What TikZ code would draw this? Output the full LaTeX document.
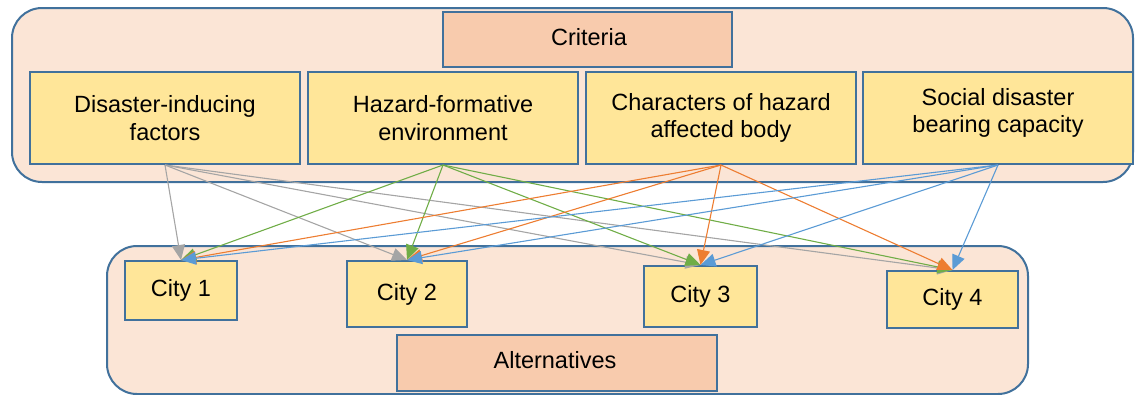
\documentclass[tikz,border=0pt]{standalone}
\usepackage{fontspec}
\setmainfont{Liberation Sans}
\usetikzlibrary{arrows.meta}
\definecolor{peach}{HTML}{FBE5D6}
\definecolor{salmon}{HTML}{F8CBAD}
\definecolor{ylw}{HTML}{FFE699}
\definecolor{bord}{HTML}{41719C}
\definecolor{cgray}{HTML}{A5A5A5}
\definecolor{cgreen}{HTML}{70AD47}
\definecolor{corange}{HTML}{ED7D31}
\definecolor{cblue}{HTML}{5B9BD5}
\begin{document}
\begin{tikzpicture}[x=1pt,y=-1pt,
  container/.style={draw=bord, line width=2pt, fill=peach, rounded corners=30pt, inner sep=0pt},
  titlebox/.style={draw=bord, line width=2pt, fill=salmon, inner sep=0pt},
  critbox/.style={draw=bord, line width=2pt, fill=ylw, inner sep=0pt},
  lbl/.style={font=\fontsize{23.5}{27.5}\selectfont, align=center, text=black},
  link/.style={line width=1.1pt, -{Triangle[length=15pt,width=13pt]}}]
\useasboundingbox (0,0) rectangle (1135,394);
% containers
\node[container, minimum width=1121pt, minimum height=174pt] (top) at (572.5,95) {};
\node[container, minimum width=921pt, minimum height=148pt] (bot) at (567.5,320) {};
% title boxes
\node[titlebox, lbl, minimum width=289pt, minimum height=55pt] (crit) at (587.5,39.5) {};
\node[lbl] (critt) at (589,37) {Criteria};
\node[titlebox, lbl, minimum width=320pt, minimum height=56pt] (alt) at (557,363) {};
\node[lbl] (altt) at (555,360) {Alternatives};
% criteria
\node[critbox, lbl, minimum width=270pt, minimum height=92pt] (c1) at (165,118) {Disaster-inducing\\factors};
\node[critbox, lbl, minimum width=270pt, minimum height=92pt] (c2) at (443,118) {Hazard-formative\\environment};
\node[critbox, lbl, minimum width=270pt, minimum height=92pt] (c3) at (721,118) {Characters of hazard\\affected body};
\node[critbox, minimum width=270pt, minimum height=92pt] (c4) at (998,118) {};
\node[lbl] (c4t) at (998,113) {Social disaster\\bearing capacity};
% cities
\node[critbox, lbl, minimum width=112pt, minimum height=59pt] (city1) at (181,290.5) {City 1};
\node[critbox, lbl, minimum width=120pt, minimum height=66pt] (city2) at (407,294) {City 2};
\node[critbox, lbl, minimum width=113pt, minimum height=61pt] (city3) at (700.5,296.5) {City 3};
\node[critbox, lbl, minimum width=131pt, minimum height=57pt] (city4) at (952.5,299.5) {City 4};
% links
\foreach \c in {city1,city2,city3,city4} {
  \draw[link, cgray] (c1.south) -- (\c.north);
}
\foreach \c in {city1,city2,city3,city4} {
  \draw[link, cgreen] (c2.south) -- (\c.north);
}
\foreach \c in {city1,city2,city3,city4} {
  \draw[link, corange] (c3.south) -- (\c.north);
}
\foreach \c in {city1,city2,city3,city4} {
  \draw[link, cblue] (c4.south) -- (\c.north);
}
\end{tikzpicture}
\end{document}
